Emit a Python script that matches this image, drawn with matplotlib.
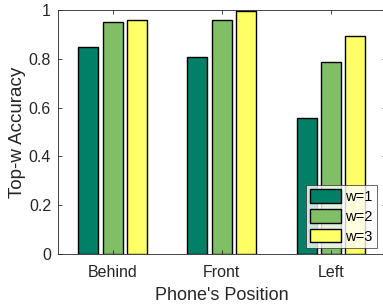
import matplotlib
matplotlib.use("Agg")
import matplotlib.pyplot as plt
import numpy as np

categories = ["Behind", "Front", "Left"]
series_labels = ["w=1", "w=2", "w=3"]
w1 = [0.847, 0.807, 0.556]
w2 = [0.950, 0.958, 0.788]
w3 = [0.958, 0.996, 0.892]
colors = ["#008066", "#80BF66", "#FFFF66"]
yticks = [0, 0.2, 0.4, 0.6, 0.8, 1]
ytick_labels = ["0", "0.2", "0.4", "0.6", "0.8", "1"]

plt.rcParams['font.family'] = ['Liberation Sans', 'DejaVu Sans']
W, H = 383, 306
fig = plt.figure(figsize=(W/100, H/100), dpi=100)
ax_left, ax_right, ax_top, ax_bottom = 58, 385.5, 10, 254
ax = fig.add_axes([ax_left/W, 1 - ax_bottom/H, (ax_right-ax_left)/W, (ax_bottom-ax_top)/H])

x = np.arange(1, len(categories) + 1)
offset = 0.223
width = 0.183
for i, (vals, lab, c) in enumerate(zip([w1, w2, w3], series_labels, colors)):
    ax.bar(x + (i - 1) * offset, vals, width, color=c, edgecolor="black",
           linewidth=1.0, label=lab)

ax.set_xlim(0.5, 3.5)
ax.set_ylim(0, 1)
ax.set_xticks(x)
ax.set_xticklabels(categories)
ax.set_yticks(yticks)
ax.set_yticklabels(ytick_labels)
axcol = "#262626"
for s in ax.spines.values():
    s.set_color(axcol)
    s.set_linewidth(0.6)
ax.tick_params(direction="in", length=3, width=0.6, color=axcol, labelsize=11.5,
               labelcolor=axcol, top=True, right=True)
ax.tick_params(axis="x", pad=8)
ax.tick_params(axis="y", pad=5)
ax.set_xlabel("Phone's Position", fontsize=13, color=axcol, labelpad=5)
ax.set_ylabel("Top-w Accuracy", fontsize=13.5, color=axcol, labelpad=2)

leg = ax.legend(loc="lower right", bbox_to_anchor=((377 - ax_left)/(ax_right-ax_left), (254-248)/(ax_bottom-ax_top)),
                fontsize=10.5, frameon=True, fancybox=False, edgecolor=axcol,
                handlelength=2.1, handleheight=1.05, handletextpad=0.3,
                borderpad=0.3, labelspacing=0.35, borderaxespad=0)
leg.get_frame().set_linewidth(0.6)

fig.savefig("out.png", dpi=100)
